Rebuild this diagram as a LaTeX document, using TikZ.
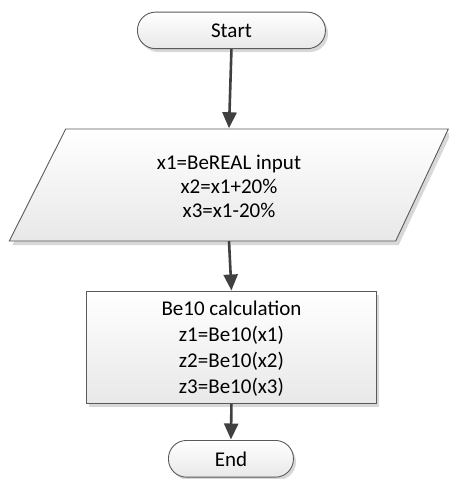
\documentclass[tikz,border=0pt]{standalone}
\usepackage{fontspec}
\setmainfont{Carlito}
\usetikzlibrary{arrows.meta,calc}
\definecolor{edge}{HTML}{5A5A5A}
\definecolor{flow}{HTML}{404040}
\definecolor{shade}{HTML}{D8D8D8}
\tikzset{
  boxfill/.style={top color=white, bottom color=black!9, draw=edge, line width=0.9pt},
  shadowfill/.style={fill=shade, draw=none},
  label/.style={align=center, font=\fontsize{21}{25}\selectfont, text=black, inner sep=0pt},
  flowarrow/.style={draw=flow, line width=2.6pt, -{Triangle[width=14pt,length=16pt]}, shorten >=0.5pt},
}
\begin{document}
\begin{tikzpicture}[x=1pt, y=-1pt]
\useasboundingbox (0,0) rectangle (449,479);

% terminal: Start
\fill[shadowfill, rounded corners=18pt] (140,15) rectangle (328,52);
\node[boxfill, rounded corners=18pt, minimum width=188pt, minimum height=36.5pt, inner sep=0pt, anchor=north west]
  (start) at (137,11.7) {};
\node[label] at ($(start.center)+(0,0.5)$) {Start};

% input parallelogram
\coordinate (inNW) at (65.7,129);
\coordinate (inNE) at (448.3,129);
\coordinate (inSE) at (395.7,241);
\coordinate (inSW) at (9.3,241);
\fill[shadowfill] ($(inNW)+(3,4)$) -- ($(inNE)+(3,4)$) -- ($(inSE)+(3,4)$) -- ($(inSW)+(3,4)$) -- cycle;
\path[boxfill] (inNW) -- (inNE) -- (inSE) -- (inSW) -- cycle;
\node[minimum width=330pt, minimum height=112pt, inner sep=0pt] (input) at (229,185) {};
\node[label, font=\fontsize{21}{24}\selectfont] at ($(input.center)+(0,1)$)
  {x1=BeREAL input\\x2=x1+20\%\\x3=x1-20\%};

% process box
\fill[shadowfill] (89,295) rectangle (379,407);
\node[boxfill, minimum width=290pt, minimum height=112pt, inner sep=0pt, anchor=north west]
  (calc) at (86,291) {};
\node[label, font=\fontsize{21}{26}\selectfont] at ($(calc.center)+(0,1)$)
  {Be10 calculation\\z1=Be10(x1)\\z2=Be10(x2)\\z3=Be10(x3)};

% terminal: End
\fill[shadowfill, rounded corners=18pt] (171,444) rectangle (296,480);
\node[boxfill, rounded corners=18pt, minimum width=125pt, minimum height=36.7pt, inner sep=0pt, anchor=north west]
  (stop) at (168,440) {};
\node[label] at ($(stop.center)+(0,0.5)$) {End};

% flow
\draw[flowarrow] (start.south) -- (input.north);
\draw[flowarrow] (input.south) -- (calc.north);
\draw[flowarrow] (calc.south) -- (stop.north);
\end{tikzpicture}
\end{document}
